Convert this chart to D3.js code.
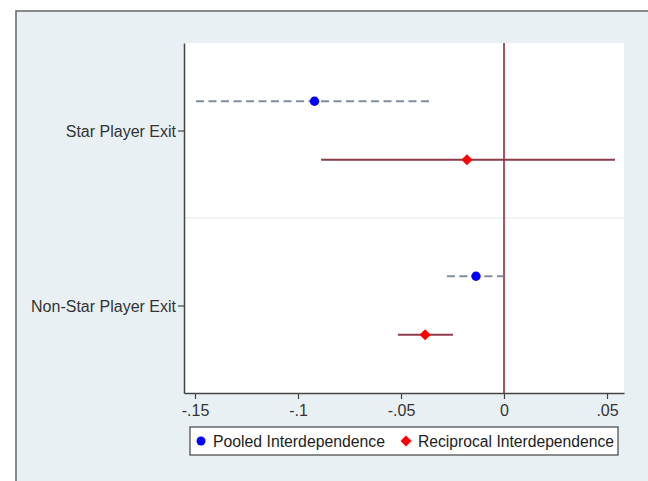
<!DOCTYPE html>
<html><head><meta charset="utf-8">
<script src="https://cdn.jsdelivr.net/npm/d3@7"></script>
<style>body{margin:0;background:#fff;} text{font-family:"Liberation Sans",Arial,sans-serif;}</style>
</head><body>
<svg id="c" width="648" height="481"></svg>
<script>
const categories = ["Star Player Exit", "Non-Star Player Exit"];
const seriesNames = ["Pooled Interdependence", "Reciprocal Interdependence"];
const pooledEst = [-0.092, -0.0136];
const pooledLo = [-0.1495, -0.0277];
const pooledHi = [-0.0345, -0.0003];
const recipEst = [-0.018, -0.0383];
const recipLo = [-0.0888, -0.0515];
const recipHi = [0.0539, -0.0248];
const xTicks = [-0.15, -0.1, -0.05, 0, 0.05];
const xTickLabels = ["-.15", "-.1", "-.05", "0", ".05"];

const svg = d3.select("#c");
svg.append("rect").attr("x",16).attr("y",11).attr("width",640).attr("height",480)
  .attr("fill","#e8f0f4").attr("stroke","#666").attr("stroke-width",1.5);

const L=184, R=624, T=43, B=393;
svg.append("rect").attr("x",L).attr("y",T).attr("width",R-L).attr("height",B-T).attr("fill","#fff");

const x = d3.scaleLinear().domain([-0.15534, 0.05825]).range([L, R]);
const y = d3.scaleLinear().domain([0.5, 2.5]).range([T, B]);
const off = 0.167;

svg.append("line").attr("x1",L).attr("x2",R).attr("y1",y(1.5)).attr("y2",y(1.5))
  .attr("stroke","#eceeef").attr("stroke-width",1.5);

svg.append("line").attr("x1",x(0)).attr("x2",x(0)).attr("y1",T).attr("y2",B)
  .attr("stroke","#8b1e32").attr("stroke-width",1.5);

const g = svg.append("g");
const pooled = categories.map((c,i)=>({c,i,est:pooledEst[i],lo:pooledLo[i],hi:pooledHi[i]}));
const recip = categories.map((c,i)=>({c,i,est:recipEst[i],lo:recipLo[i],hi:recipHi[i]}));

g.selectAll(".pci").data(pooled).join("line")
  .attr("x1",d=>x(d.lo)).attr("x2",d=>x(d.hi))
  .attr("y1",d=>y(d.i+1-off)).attr("y2",d=>y(d.i+1-off))
  .attr("stroke","#7f8e9e").attr("stroke-width",2).attr("stroke-dasharray","8,4.5");
g.selectAll(".rci").data(recip).join("line")
  .attr("x1",d=>x(d.lo)).attr("x2",d=>x(d.hi))
  .attr("y1",d=>y(d.i+1+off)).attr("y2",d=>y(d.i+1+off))
  .attr("stroke","#8d3a4a").attr("stroke-width",2);

g.selectAll(".pp").data(pooled).join("circle")
  .attr("cx",d=>x(d.est)).attr("cy",d=>y(d.i+1-off)).attr("r",4.7).attr("fill","#0000ff");
const dia = d3.symbol().type(d3.symbolDiamond2).size(78);
g.selectAll(".rp").data(recip).join("path")
  .attr("d",dia).attr("transform",d=>`translate(${x(d.est)},${y(d.i+1+off)})`).attr("fill","#ff0000");

const xa = svg.append("g").attr("transform",`translate(0,${B})`)
  .call(d3.axisBottom(x).tickValues(xTicks).tickFormat((d,i)=>xTickLabels[i]).tickSize(6).tickSizeOuter(0));
xa.select(".domain").attr("stroke","#444").attr("stroke-width",1.5);
xa.selectAll(".tick line").attr("stroke","#444").attr("stroke-width",1.2);
xa.selectAll("text").attr("font-size",16).attr("fill","#333").attr("dy","0.85em");

const ya = svg.append("g").attr("transform",`translate(${L},0)`)
  .call(d3.axisLeft(y).tickValues([1,2]).tickFormat((d,i)=>categories[i]).tickSize(6).tickSizeOuter(0));
ya.select(".domain").attr("stroke","#444").attr("stroke-width",1.5);
ya.selectAll(".tick line").attr("stroke","#444").attr("stroke-width",1.2);
ya.selectAll("text").attr("font-size",16).attr("fill","#333").attr("x",-8).attr("dy","0.4em");

const lg = svg.append("g");
lg.append("rect").attr("x",190).attr("y",427).attr("width",428).attr("height",28)
  .attr("fill","#fff").attr("stroke","#444").attr("stroke-width",1.2);
lg.append("circle").attr("cx",201).attr("cy",441).attr("r",4.5).attr("fill","#0000ff");
lg.append("text").attr("x",213).attr("y",447).attr("font-size",16).attr("fill","#222")
  .attr("textLength",172).attr("lengthAdjust","spacingAndGlyphs").text(seriesNames[0]);
lg.append("path").attr("d",dia).attr("transform","translate(406,441)").attr("fill","#ff0000");
lg.append("text").attr("x",418).attr("y",447).attr("font-size",16).attr("fill","#222")
  .attr("textLength",196).attr("lengthAdjust","spacingAndGlyphs").text(seriesNames[1]);
</script>
</body></html>
